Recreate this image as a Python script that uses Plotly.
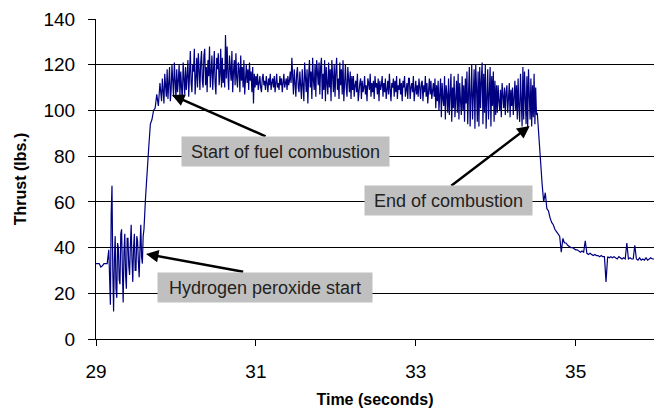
import plotly.graph_objects as go

# Segment start times (s), sampling steps (s) and thrust readings (lbs)
seg_starts = [29.00, 29.16, 29.60, 29.82, 30.18, 30.58, 31.02, 31.44, 31.60,
              32.22, 32.92, 33.28, 33.64, 34.02, 34.30, 34.52, 35.02]
seg_steps = [0.02, 0.01, 0.02, 0.01, 0.01, 0.01, 0.01, 0.01, 0.01,
             0.01, 0.01, 0.01, 0.01, 0.01, 0.01, 0.02, 0.02]

thrust_pre = [33, 33, 33, 31.5, 32, 33, 33, 33]
thrust_peroxide = [39, 20, 15, 55, 67, 30, 12, 35, 45, 22, 18, 42, 40, 26, 24, 46,
                   48, 30, 16, 38, 46, 28, 22, 44, 44, 32, 28, 41, 50, 35, 25, 40,
                   46, 30, 30, 45, 43, 34, 27, 39, 50, 36, 33, 45]
thrust_rise = [48, 62, 76, 84, 94, 96, 100, 101, 107, 102, 112]
thrust_fuel_start = [104, 114, 108, 103, 116, 110, 106, 118, 105, 112, 119, 104,
                     109, 120, 111, 106, 121, 115, 105, 118, 108, 113, 120, 106,
                     117, 110, 104, 121, 112, 107, 119, 109, 115, 122, 106, 118]
thrust_peak_a = [126, 112, 108, 120, 117, 127, 107, 114, 123, 110, 125, 118, 109,
                 121, 126, 113, 110, 124, 127, 111, 119, 108, 122, 115, 128, 110,
                 117, 124, 109, 121, 126, 112, 107, 123, 118, 125, 111, 116, 127, 110]
thrust_peak_b = [123, 112, 118, 110, 133, 114, 128, 116, 109, 124, 120, 113, 126,
                 108, 117, 122, 111, 125, 114, 110, 121, 118, 108, 124, 113, 119,
                 110, 122, 107, 116, 120, 112, 118, 109, 121, 113, 117, 108, 119,
                 103, 116, 110, 115, 111]
thrust_steady_a = [116, 109, 113, 115, 110, 108, 114, 116, 111, 113, 109, 115, 112,
                   108, 114, 111, 116, 109, 112, 114, 110, 115, 108, 113, 116, 110,
                   112, 109, 115, 111, 114, 108, 113, 116, 110, 112, 114, 109, 115,
                   111, 113, 117]
thrust_steady_b = [112, 123, 116, 107, 118, 113, 106, 116, 119, 110, 108, 117, 112,
                   105, 118, 110]
thrust_steady_c = [104, 121, 112, 108, 118, 103, 115, 122, 110, 117, 105, 123, 113,
                   109, 120, 106, 122, 114, 111, 121, 107, 119, 123, 105, 116, 109,
                   122, 104, 119, 112, 107, 121, 110, 118, 104, 122, 113, 108, 120,
                   106, 117, 123, 109, 114, 105, 121, 111, 118, 107, 122, 104, 116,
                   120, 110, 106, 119, 113, 108, 117, 105, 115, 109]
thrust_steady_d = [115, 106, 111, 113, 108, 116, 104, 110, 112, 114, 105, 113, 108,
                   110, 115, 107, 111, 104, 114, 112, 109, 116, 106, 112, 108, 113,
                   105, 115, 110, 112, 107, 114, 104, 113, 109, 111, 115, 106, 112,
                   108, 114, 105, 110, 113, 107, 116, 109, 104, 112, 110, 114, 106,
                   113, 108, 115, 105, 111, 109, 114, 107, 112, 104, 113, 110, 115,
                   106, 109, 112, 105, 114]
thrust_steady_e = [114, 105, 110, 112, 108, 115, 104, 109, 113, 107, 111, 106, 114,
                   110, 105, 112, 113, 104, 111, 108, 115, 106, 112, 103, 110, 114,
                   107, 113, 105, 109, 112, 106, 114, 101, 111, 104]
thrust_osc_a = [113, 100, 108, 114, 97, 112, 105, 102, 115, 96, 111, 107, 99, 114,
                98, 113, 116, 95, 110, 101, 115, 97, 106, 113, 99, 116, 96, 112, 104,
                98, 115, 100, 111, 95, 114, 103]
thrust_osc_b = [117, 94, 108, 119, 93, 113, 120, 96, 104, 118, 92, 120, 110, 95,
                117, 93, 119, 101, 113, 121, 94, 116, 99, 120, 92, 111, 118, 96, 107,
                119, 93, 115, 102, 117, 95, 113, 98, 111]
thrust_osc_c = [99, 111, 104, 100, 109, 97, 112, 106, 101, 110, 98, 108, 111, 99,
                105, 112, 97, 109, 102, 110, 98, 107, 113, 100, 111, 96, 114, 101]
thrust_osc_d = [95, 116, 105, 93, 119, 96, 117, 108, 94, 115, 92, 118, 101, 96, 114,
                93, 111, 97, 116, 94, 110, 98]
thrust_shutdown = [99, 87, 78, 68, 60, 64, 57, 56, 53, 51, 50, 48, 47, 46, 45, 38,
                   44, 42, 42, 41, 40.5, 40, 40, 39.5, 39]
thrust_tail = [39, 38.5, 38, 38.5, 38, 43, 37.5, 37, 37.5, 37, 36.5, 37, 36.5, 36.5,
               36, 36.5, 36, 36, 25, 36, 35.5, 36, 35.5, 36, 35.5, 35, 36, 35.5, 35,
               35.5, 35, 42, 35, 35.5, 35, 35, 41, 35, 34.5, 35.5, 34.5, 35, 34.5,
               35.5, 34.5, 35, 35.5, 35, 35]

segments = [thrust_pre, thrust_peroxide, thrust_rise, thrust_fuel_start,
            thrust_peak_a, thrust_peak_b, thrust_steady_a, thrust_steady_b,
            thrust_steady_c, thrust_steady_d, thrust_steady_e, thrust_osc_a,
            thrust_osc_b, thrust_osc_c, thrust_osc_d, thrust_shutdown, thrust_tail]

x_tick_vals = [29, 31, 33, 35]
y_tick_vals = [0, 20, 40, 60, 80, 100, 120, 140]

time, thrust = [], []
for start, step, vals in zip(seg_starts, seg_steps, segments):
    for i, v in enumerate(vals):
        time.append(round(start + step * i, 3))
        thrust.append(v)

FONT = "Arial, Liberation Sans, sans-serif"

fig = go.Figure()
fig.add_trace(go.Scatter(x=time, y=thrust, mode="lines",
                         line=dict(color="#000080", width=1.2),
                         hoverinfo="skip", showlegend=False))

fig.update_layout(
    width=654, height=412,
    margin=dict(l=96, r=0, t=19, b=73),
    paper_bgcolor="white", plot_bgcolor="white",
    font=dict(family=FONT, color="black"),
    xaxis=dict(range=[29, 35.98], tickvals=x_tick_vals, ticks="outside",
               ticklen=6, tickcolor="black", showline=True, linecolor="black",
               linewidth=1, showgrid=False, zeroline=False,
               tickfont=dict(size=19, family=FONT), ticklabelstandoff=9,
               title=dict(text="<b>Time (seconds)</b>", font=dict(size=16, family=FONT),
                          standoff=13)),
    yaxis=dict(range=[0, 140], tickvals=y_tick_vals, ticks="outside",
               ticklen=7, tickcolor="black", showline=True, linecolor="black",
               linewidth=1, showgrid=True, gridcolor="black", gridwidth=1,
               zeroline=False, tickfont=dict(size=19, family=FONT),
               ticklabelstandoff=9,
               title=dict(text="<b>Thrust (lbs.)</b>", font=dict(size=16, family=FONT),
                          standoff=12)),
)

# Arrows (tail -> head) in data coordinates
arrows = [
    dict(x=29.95, y=106.7, ax=31.14, ay=88.4),
    dict(x=34.425, y=93.2, ax=33.425, ay=66.5),
    dict(x=29.625, y=37.2, ax=30.86, ay=29.3),
]
for a in arrows:
    fig.add_annotation(x=a["x"], y=a["y"], ax=a["ax"], ay=a["ay"],
                       xref="x", yref="y", axref="x", ayref="y",
                       text="", showarrow=True, arrowhead=2, arrowsize=1,
                       arrowwidth=2.5, arrowcolor="black", standoff=0)

labels = [
    dict(text="Start of fuel combustion", x=31.37, y=82, w=199),
    dict(text="End of combustion", x=33.41, y=60.4, w=159),
    dict(text="Hydrogen peroxide start", x=31.11, y=22.5, w=206),
]
for lb in labels:
    fig.add_annotation(x=lb["x"], y=lb["y"], xref="x", yref="y", text=lb["text"],
                       showarrow=False, bgcolor="#C0C0C0", borderpad=4,
                       width=lb["w"], height=21,
                       font=dict(size=18, family=FONT, color="#222222"))

fig.write_html("out.html")
